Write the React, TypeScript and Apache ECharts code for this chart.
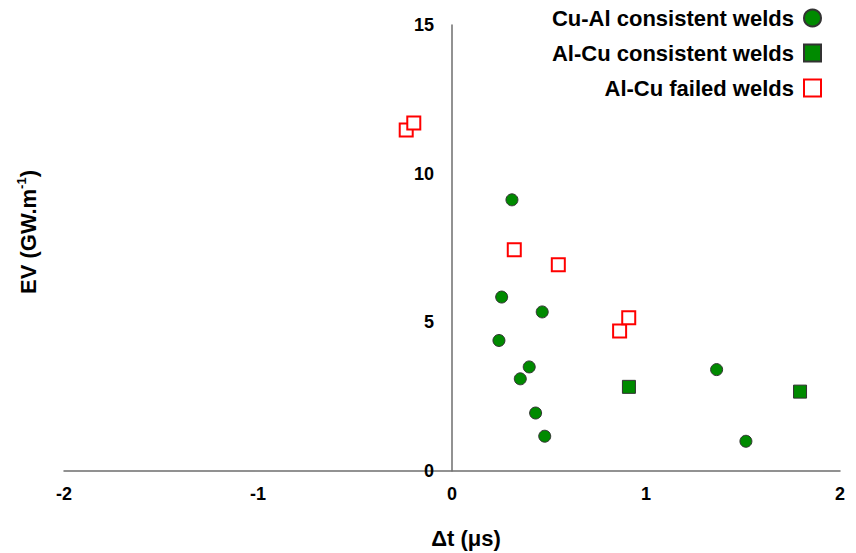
import React, { useEffect, useRef } from "react";
import * as echarts from "echarts";

const cuAlX = [0.309, 0.256, 0.465, 0.242, 0.398, 0.352, 0.431, 0.478, 1.364, 1.515];
const cuAlY = [9.12, 5.85, 5.35, 4.39, 3.5, 3.1, 1.95, 1.17, 3.41, 1.0];
const alCuOkX = [0.912, 1.794];
const alCuOkY = [2.83, 2.67];
const alCuFailX = [-0.236, -0.197, 0.321, 0.548, 0.864, 0.911];
const alCuFailY = [11.47, 11.7, 7.44, 6.94, 4.71, 5.15];
const seriesNames = ["Cu-Al consistent welds", "Al-Cu consistent welds", "Al-Cu failed welds"];
const xTicks = { min: -2, max: 2, interval: 1 };
const yTicks = { min: 0, max: 15, interval: 5 };

const FONT = "'Liberation Sans', Arial, sans-serif";

const zip = (xs: number[], ys: number[]) => xs.map((x, i) => [x, ys[i]]);

export default function App() {
  const ref = useRef<HTMLDivElement>(null);
  useEffect(() => {
    if (!ref.current) return;
    const chart = echarts.init(ref.current, null, { renderer: "svg" });
    const legendBase = {
      right: 34,
      padding: 0,
      align: "right" as const,
      itemWidth: 17,
      itemHeight: 17,
      textStyle: {
        fontFamily: FONT,
        fontWeight: "bold" as const,
        fontSize: 22,
        color: "#000",
        padding: [0, 5, 0, 0],
      },
    };
    chart.setOption({
      animation: false,
      backgroundColor: "#fff",
      grid: { left: 64, right: 16, top: 25, bottom: 82 },
      legend: [
        { ...legendBase, top: 7, data: [seriesNames[0]] },
        { ...legendBase, top: 42, data: [seriesNames[1]] },
        { ...legendBase, top: 77, data: [seriesNames[2]] },
      ],
      xAxis: {
        type: "value",
        min: xTicks.min,
        max: xTicks.max,
        interval: xTicks.interval,
        splitLine: { show: false },
        axisTick: { show: false },
        axisLine: { show: true, lineStyle: { color: "#6e6e6e", width: 1.5 } },
        axisLabel: { fontFamily: FONT, fontWeight: "bold", fontSize: 18, color: "#000", margin: 14 },
      },
      yAxis: {
        type: "value",
        min: yTicks.min,
        max: yTicks.max,
        interval: yTicks.interval,
        offset: -388,
        splitLine: { show: false },
        axisTick: { show: false },
        axisLine: { show: true, onZero: false, lineStyle: { color: "#6e6e6e", width: 1.5 } },
        axisLabel: { fontFamily: FONT, fontWeight: "bold", fontSize: 18, color: "#000", margin: 18 },
      },
      graphic: [
        {
          type: "text",
          x: 466,
          y: 538,
          style: {
            text: "Δt (μs)",
            align: "center",
            verticalAlign: "middle",
            fontFamily: FONT,
            fontWeight: "bold",
            fontSize: 22,
            fill: "#000",
          },
        },
        {
          type: "text",
          x: 28,
          y: 232,
          rotation: Math.PI / 2,
          style: {
            text: "{a|EV (GW.m}{s|-1}{a|)}",
            align: "center",
            verticalAlign: "middle",
            fill: "#000",
            rich: {
              a: { fontFamily: FONT, fontWeight: "bold", fontSize: 22, lineHeight: 26, fill: "#000" },
              s: { fontFamily: FONT, fontWeight: "bold", fontSize: 13, verticalAlign: "top", fill: "#000" },
            },
          },
        },
      ],
      series: [
        {
          name: seriesNames[0],
          type: "scatter",
          symbol: "circle",
          symbolSize: 12,
          data: zip(cuAlX, cuAlY),
          itemStyle: { color: "#008a00", borderColor: "#333", borderWidth: 1, opacity: 1 },
        },
        {
          name: seriesNames[1],
          type: "scatter",
          symbol: "rect",
          symbolSize: 13,
          data: zip(alCuOkX, alCuOkY),
          itemStyle: { color: "#008a00", borderColor: "#333", borderWidth: 1, opacity: 1 },
        },
        {
          name: seriesNames[2],
          type: "scatter",
          symbol: "rect",
          symbolSize: 13,
          data: zip(alCuFailX, alCuFailY),
          itemStyle: { color: "#fff", borderColor: "#ff0000", borderWidth: 2, opacity: 1 },
        },
      ],
    });
    return () => chart.dispose();
  }, []);
  return <div ref={ref} style={{ width: 856, height: 553, position: "absolute", left: 0, top: 0 }} />;
}
